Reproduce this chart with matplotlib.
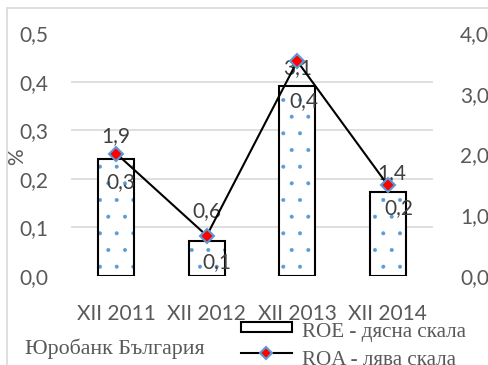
import matplotlib
matplotlib.use("Agg")
from matplotlib import pyplot as plt
from matplotlib.patches import Rectangle
from matplotlib.lines import Line2D
from matplotlib.legend_handler import HandlerTuple, HandlerPatch, HandlerLine2D
import numpy as np

years = ["XII 2011", "XII 2012", "XII 2013", "XII 2014"]
roe = [1.93, 0.57, 3.13, 1.39]      # bars, right scale
roa = [0.252, 0.083, 0.442, 0.187]  # line, left scale

# label offsets in points from each bar top
roe_off = [(0, 16.5), (0, 21.5), (0, 12.5), (3, 13.5)]
roa_off = [(3, -17), (7, -15), (5, -11), (8, -12)]

grey = "#595959"
blue = "#5B9BD5"
fs = 15
plt.rcParams["font.family"] = ["Lato", "DejaVu Sans"]
plt.rcParams["hatch.linewidth"] = 0.4

fig = plt.figure(figsize=(4.89, 3.65), dpi=100)
fig.patches.append(Rectangle((7 / 489, -0.1), 1.2, 1 - 8 / 365 + 0.1, transform=fig.transFigure,
                             fill=False, edgecolor="#D9D9D9", lw=1.2))

ax = fig.add_axes([71 / 489, 1 - 276 / 365, 362 / 489, 243 / 365])
axr = ax.twinx()
ax.set_zorder(axr.get_zorder() + 1)
ax.patch.set_visible(False)

x = np.arange(len(years))

# bars: dotted fill first, black outline on top
axr.bar(x, roe, width=0.4, color="white", edgecolor=blue, hatch=".", linewidth=0, zorder=2)
axr.bar(x, roe, width=0.4, fill=False, edgecolor="black", linewidth=1.5, zorder=3)
axr.set_ylim(0, 4)
axr.set_yticks(np.arange(0, 4.01, 1.0))
axr.set_yticklabels([f"{v:.1f}".replace(".", ",") for v in np.arange(0, 4.01, 1.0)])
axr.set_yticks(np.arange(0, 4.01, 0.8), minor=True)
axr.grid(which="minor", axis="y", color="#D9D9D9", lw=1.2, zorder=0)
axr.set_axisbelow(True)
axr.tick_params(axis="y", which="both", length=0, labelsize=fs, labelcolor=grey, pad=19.5)

ax.plot(x, roa, color="black", lw=1.5, marker="D", ms=7.5, mfc="red", mec=blue, mew=1.5, zorder=5)
ax.set_ylim(0, 0.5)
ax.set_xlim(-0.5, 3.5)
ax.set_yticks(np.arange(0, 0.51, 0.1))
ax.set_yticklabels([f"{v:.1f}".replace(".", ",") for v in np.arange(0, 0.51, 0.1)])
ax.set_xticks(x)
ax.set_xticklabels(years)
ax.tick_params(axis="y", length=0, labelsize=fs, labelcolor=grey, pad=16.5)
ax.tick_params(axis="x", length=0, labelsize=fs, labelcolor=grey, pad=20)
ax.set_ylabel("%", fontsize=fs, color=grey)
ax.yaxis.set_label_coords(-0.122, 0.49)
for a in (ax, axr):
    for s in a.spines.values():
        s.set_visible(False)

for i in range(len(years)):
    axr.annotate(f"{roe[i]:.1f}".replace(".", ","), (x[i], roe[i]), xytext=roe_off[i],
                 textcoords="offset points", ha="center", va="center", fontsize=fs,
                 color="#404040", zorder=6)
    axr.annotate(f"{roa[i]:.1f}".replace(".", ","), (x[i], roe[i]), xytext=roa_off[i],
                 textcoords="offset points", ha="center", va="center", fontsize=fs,
                 color="#404040", zorder=6)

fig.text(25 / 489, 1 - 354 / 365, "Юробанк България", family="Liberation Serif",
         fontsize=15.8, color=grey, va="baseline")


# legend key box sits a bit higher than the default one
def key_box(legend, orig_handle, xdescent, ydescent, width, height, fontsize):
    return Rectangle((-xdescent, 3.6), width, 7.2)


class RaisedLine(HandlerLine2D):
    def create_artists(self, legend, orig_handle, xdescent, ydescent, width, height,
                       fontsize, trans):
        arts = super().create_artists(legend, orig_handle, xdescent, ydescent, width,
                                      height, fontsize, trans)
        for a in arts:
            a.set_ydata(np.asarray(a.get_ydata()) + 4.5)
        return arts


box_dots = Rectangle((0, 0), 1, 1, facecolor="white", edgecolor=blue, hatch=".", lw=0)
box_edge = Rectangle((0, 0), 1, 1, fill=False, edgecolor="black", lw=1.5)
ln_handle = Line2D([], [], color="black", lw=1.5, marker="D", ms=6.5, mfc="red", mec=blue, mew=1.5)
fig.legend([(box_dots, box_edge), ln_handle], ["ROE - дясна скала", "ROA - лява скала"],
           handler_map={tuple: HandlerTuple(ndivide=1, pad=0),
                        Rectangle: HandlerPatch(patch_func=key_box),
                        Line2D: RaisedLine()},
           loc="upper left", bbox_to_anchor=(241 / 489, 1 - 322.5 / 365), frameon=False,
           prop={"family": "Liberation Serif", "size": 15.2}, labelcolor=grey,
           handlelength=2.4, handleheight=0.47, handletextpad=0.5, labelspacing=0.47,
           borderaxespad=0, borderpad=0)

fig.savefig("out.png", dpi=100)
